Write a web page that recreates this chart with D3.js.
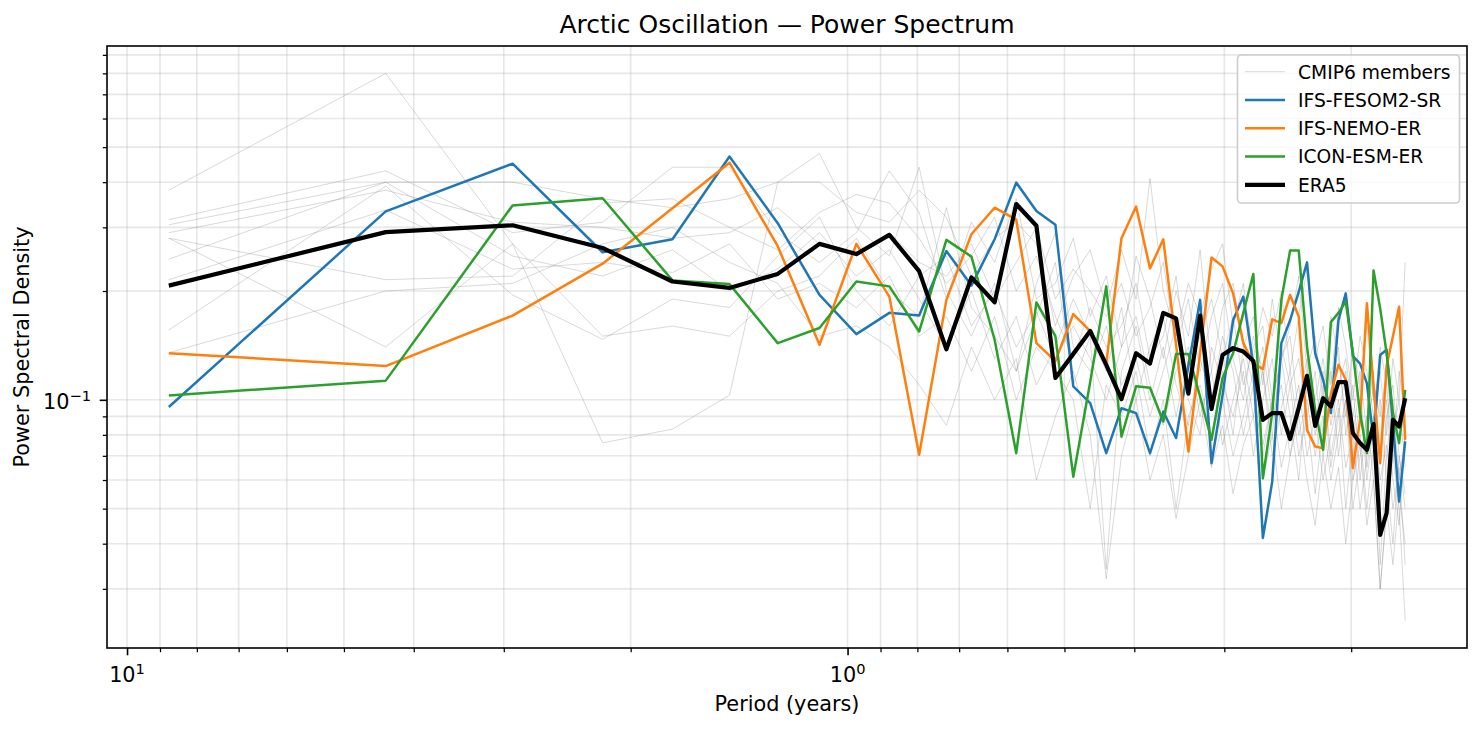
<!DOCTYPE html>
<html>
<head>
<meta charset="utf-8">
<script src="https://cdn.jsdelivr.net/npm/d3@7"></script>
<style>
  body { margin: 0; background: #fff; }
  text { font-family: "DejaVu Sans", sans-serif; fill: #000; }
</style>
</head>
<body>
<div id="chart"></div>
<script>
// periods (years) of the spectral estimates
const periods = [
    8.75, 4.375, 2.9167, 2.1875, 1.75, 1.4583, 1.25, 1.0938, 0.9722, 0.875,
    0.7955, 0.7292, 0.6731, 0.625, 0.5833, 0.5469, 0.5147, 0.4861, 0.4605, 0.4375,
    0.4167, 0.3977, 0.3804, 0.3646, 0.35, 0.3365, 0.3241, 0.3125, 0.3017, 0.2917,
    0.2823, 0.2734, 0.2652, 0.2574, 0.25, 0.2431, 0.2365, 0.2303, 0.2244, 0.2188,
    0.2134, 0.2083, 0.2035, 0.1989, 0.1944, 0.1902, 0.1862, 0.1823, 0.1786, 0.175,
    0.1716, 0.1683
];

const era5 = [
    0.207, 0.291, 0.304, 0.263, 0.2125, 0.204, 0.223, 0.270, 0.253, 0.286,
    0.227, 0.138, 0.218, 0.186, 0.348, 0.303, 0.115, 0.134, 0.155, 0.125,
    0.1004, 0.1346, 0.126, 0.174, 0.168, 0.104, 0.171, 0.0943, 0.133, 0.139,
    0.136, 0.128, 0.088, 0.0919, 0.0919, 0.0779, 0.095, 0.1165, 0.0847, 0.101,
    0.0958, 0.112, 0.112, 0.0809, 0.0759, 0.0727, 0.0857, 0.0423, 0.0486, 0.088,
    0.0844, 0.101
];

const ifsFesom = [
    0.0955, 0.332, 0.450, 0.256, 0.278, 0.471, 0.308, 0.195, 0.152, 0.174,
    0.171, 0.258, 0.207, 0.278, 0.399, 0.333, 0.305, 0.109, 0.0979, 0.0712,
    0.0948, 0.0919, 0.0712, 0.0928, 0.0784, 0.124, 0.189, 0.0668, 0.103, 0.166,
    0.193, 0.124, 0.0415, 0.0594, 0.1435, 0.166, 0.199, 0.240, 0.1346, 0.1136,
    0.0919, 0.166, 0.197, 0.132, 0.126, 0.111, 0.0775, 0.133, 0.1375, 0.0864,
    0.0523, 0.0767
];

const ifsNemo = [
    0.1346, 0.124, 0.171, 0.238, 0.339, 0.453, 0.266, 0.142, 0.270, 0.193,
    0.0705, 0.189, 0.287, 0.340, 0.315, 0.1435, 0.128, 0.1726, 0.155, 0.126,
    0.280, 0.3425, 0.231, 0.278, 0.142, 0.0719, 0.135, 0.2475, 0.234, 0.197,
    0.1435, 0.126, 0.1216, 0.167, 0.163, 0.195, 0.170, 0.0826, 0.0743, 0.0735,
    0.104, 0.125, 0.1136, 0.0647, 0.088, 0.185, 0.1088, 0.0668, 0.124, 0.150,
    0.181, 0.0775
];

const iconEsm = [
    0.1028, 0.113, 0.345, 0.361, 0.214, 0.209, 0.1435, 0.158, 0.2125, 0.206,
    0.1545, 0.277, 0.249, 0.1466, 0.0712, 0.186, 0.150, 0.0613, 0.112, 0.206,
    0.0791, 0.109, 0.108, 0.0871, 0.134, 0.134, 0.102, 0.0775, 0.115, 0.1346,
    0.174, 0.223, 0.0607, 0.0919, 0.189, 0.259, 0.259, 0.140, 0.0938, 0.0727,
    0.164, 0.174, 0.187, 0.1346, 0.0919, 0.0712, 0.228, 0.179, 0.1346, 0.0919,
    0.0759, 0.1066
];

// CMIP6 members (faint grey)
const cmip6Members = [
    [0.38, 0.80, 0.27, 0.076, 0.083, 0.103, 0.40, 0.48, 0.30, 0.25,
     0.44, 0.20, 0.15, 0.21, 0.12, 0.17, 0.24, 0.11, 0.15, 0.034,
     0.12, 0.16, 0.10, 0.14, 0.09, 0.13, 0.17, 0.10, 0.12, 0.08,
     0.14, 0.11, 0.07, 0.10, 0.13, 0.09, 0.06, 0.11, 0.085, 0.12,
     0.07, 0.095, 0.05, 0.08, 0.11, 0.065, 0.09, 0.035, 0.07, 0.10,
     0.06, 0.08],
    [0.315, 0.43, 0.29, 0.31, 0.44, 0.44, 0.29, 0.24, 0.29, 0.43,
     0.33, 0.19, 0.31, 0.24, 0.36, 0.19, 0.21, 0.28, 0.17, 0.22,
     0.14, 0.25, 0.19, 0.13, 0.20, 0.15, 0.26, 0.12, 0.18, 0.21,
     0.14, 0.17, 0.11, 0.19, 0.13, 0.16, 0.22, 0.12, 0.15, 0.10,
     0.17, 0.13, 0.09, 0.14, 0.11, 0.16, 0.10, 0.12, 0.08, 0.13,
     0.10, 0.24],
    [0.305, 0.40, 0.40, 0.36, 0.34, 0.36, 0.40, 0.40, 0.33, 0.31,
     0.38, 0.32, 0.22, 0.28, 0.31, 0.27, 0.16, 0.22, 0.26, 0.18,
     0.26, 0.19, 0.41, 0.20, 0.15, 0.21, 0.17, 0.23, 0.27, 0.16,
     0.21, 0.13, 0.18, 0.15, 0.20, 0.12, 0.17, 0.23, 0.13, 0.16,
     0.11, 0.18, 0.14, 0.10, 0.15, 0.12, 0.09, 0.14, 0.11, 0.07,
     0.12, 0.09],
    [0.29, 0.38, 0.31, 0.30, 0.28, 0.29, 0.34, 0.27, 0.25, 0.29,
     0.24, 0.22, 0.27, 0.19, 0.24, 0.30, 0.19, 0.23, 0.20, 0.17,
     0.21, 0.15, 0.18, 0.24, 0.14, 0.19, 0.12, 0.17, 0.21, 0.13,
     0.10, 0.15, 0.12, 0.08, 0.14, 0.11, 0.13, 0.09, 0.12, 0.07,
     0.10, 0.14, 0.08, 0.11, 0.06, 0.09, 0.12, 0.05, 0.09, 0.11,
     0.07, 0.05],
    [0.28, 0.14, 0.27, 0.15, 0.16, 0.15, 0.20, 0.22, 0.28, 0.20,
     0.17, 0.34, 0.18, 0.15, 0.12, 0.21, 0.29, 0.14, 0.12, 0.16,
     0.11, 0.13, 0.09, 0.12, 0.16, 0.10, 0.08, 0.14, 0.11, 0.09,
     0.12, 0.07, 0.10, 0.13, 0.08, 0.11, 0.07, 0.09, 0.055, 0.085,
     0.12, 0.07, 0.10, 0.06, 0.08, 0.05, 0.075, 0.10, 0.06, 0.04,
     0.07, 0.055],
    [0.245, 0.40, 0.25, 0.22, 0.26, 0.20, 0.23, 0.29, 0.22, 0.26,
     0.19, 0.14, 0.20, 0.13, 0.17, 0.11, 0.14, 0.19, 0.15, 0.12,
     0.18, 0.10, 0.14, 0.17, 0.11, 0.085, 0.13, 0.10, 0.15, 0.12,
     0.08, 0.11, 0.14, 0.09, 0.11, 0.07, 0.10, 0.13, 0.08, 0.11,
     0.065, 0.09, 0.12, 0.07, 0.10, 0.06, 0.085, 0.07, 0.10, 0.06,
     0.045, 0.08],
    [0.215, 0.335, 0.23, 0.24, 0.225, 0.27, 0.19, 0.21, 0.18, 0.22,
     0.15, 0.17, 0.12, 0.17, 0.10, 0.14, 0.12, 0.10, 0.05, 0.11,
     0.09, 0.12, 0.07, 0.10, 0.05, 0.09, 0.11, 0.08, 0.10, 0.07,
     0.09, 0.12, 0.075, 0.10, 0.065, 0.085, 0.11, 0.07, 0.09, 0.06,
     0.08, 0.10, 0.065, 0.08, 0.05, 0.07, 0.09, 0.06, 0.075, 0.05,
     0.065, 0.035],
    [0.156, 0.39, 0.195, 0.147, 0.19, 0.18, 0.25, 0.32, 0.20, 0.16,
     0.22, 0.25, 0.16, 0.20, 0.14, 0.175, 0.13, 0.16, 0.13, 0.10,
     0.14, 0.17, 0.11, 0.085, 0.12, 0.14, 0.09, 0.12, 0.075, 0.10,
     0.13, 0.09, 0.12, 0.07, 0.095, 0.12, 0.08, 0.10, 0.07, 0.09,
     0.06, 0.08, 0.10, 0.05, 0.07, 0.09, 0.06, 0.03, 0.05, 0.07,
     0.05, 0.0245],
    [0.135, 0.20, 0.21, 0.27, 0.30, 0.24, 0.21, 0.15, 0.16, 0.14,
     0.11, 0.085, 0.14, 0.10, 0.13, 0.06, 0.09, 0.12, 0.08, 0.032,
     0.07, 0.10, 0.06, 0.08, 0.047, 0.07, 0.10, 0.065, 0.085, 0.055,
     0.075, 0.09, 0.06, 0.08, 0.05, 0.07, 0.09, 0.06, 0.045, 0.07,
     0.05, 0.065, 0.04, 0.06, 0.075, 0.045, 0.06, 0.03, 0.05, 0.035,
     0.055, 0.04],
    [0.28, 0.215, 0.22, 0.35, 0.36, 0.30, 0.26, 0.33, 0.37, 0.35,
     0.28, 0.21, 0.25, 0.32, 0.20, 0.25, 0.17, 0.13, 0.18, 0.14,
     0.16, 0.21, 0.13, 0.15, 0.22, 0.12, 0.15, 0.19, 0.13, 0.17,
     0.11, 0.14, 0.16, 0.10, 0.13, 0.15, 0.09, 0.12, 0.10, 0.13,
     0.085, 0.11, 0.13, 0.09, 0.12, 0.08, 0.11, 0.09, 0.12, 0.08,
     0.10, 0.065]
];

const modelNames = ["IFS-FESOM2-SR", "IFS-NEMO-ER", "ICON-ESM-ER", "ERA5"];
const modelValues = [ifsFesom, ifsNemo, iconEsm, era5];
const modelColors = ["#1f77b4", "#ff7f0e", "#2ca02c", "#000000"];
const modelWidths = [2.5, 2.5, 2.5, 4.2];

const W = 1483, H = 730;
const plot = { left: 107, right: 1467, top: 46, bottom: 648 };

const svg = d3.select("#chart").append("svg")
    .attr("width", W)
    .attr("height", H);

// matplotlib-like 5% margin on a log axis
function logPad(ext) {
    const lo = Math.log10(ext[0]), hi = Math.log10(ext[1]);
    const p = (hi - lo) * 0.05;
    return [Math.pow(10, lo - p), Math.pow(10, hi + p)];
}

const xd = logPad(d3.extent(periods));
const x = d3.scaleLog().domain([xd[1], xd[0]]).range([plot.left, plot.right]);

const allValues = modelValues.concat(cmip6Members).flat();
const yd = logPad(d3.extent(allValues));
const y = d3.scaleLog().domain(yd).range([plot.bottom, plot.top]);

const isMajor = v => Math.abs(Math.log10(v) - Math.round(Math.log10(v))) < 1e-6;
const xTicks = x.ticks();
const yTicks = y.ticks();

// grid (major + minor)
const grid = svg.append("g");
grid.selectAll(".gx").data(xTicks).enter().append("line")
    .attr("x1", d => x(d)).attr("x2", d => x(d))
    .attr("y1", plot.top).attr("y2", plot.bottom)
    .attr("stroke", "#b0b0b0").attr("stroke-opacity", 0.3).attr("stroke-width", 1.6);
grid.selectAll(".gy").data(yTicks).enter().append("line")
    .attr("x1", plot.left).attr("x2", plot.right)
    .attr("y1", d => y(d)).attr("y2", d => y(d))
    .attr("stroke", "#b0b0b0").attr("stroke-opacity", 0.3).attr("stroke-width", 1.6);

svg.append("clipPath").attr("id", "clip")
    .append("rect")
    .attr("x", plot.left).attr("y", plot.top)
    .attr("width", plot.right - plot.left).attr("height", plot.bottom - plot.top);

const line = d3.line()
    .x((d, i) => x(periods[i]))
    .y(d => y(d));

const lines = svg.append("g").attr("clip-path", "url(#clip)");

lines.selectAll(".member")
    .data(cmip6Members)
    .enter().append("path")
    .attr("d", line)
    .attr("fill", "none")
    .attr("stroke", "#808080")
    .attr("stroke-opacity", 0.3)
    .attr("stroke-width", 1);

modelValues.forEach((vals, i) => {
    lines.append("path")
        .datum(vals)
        .attr("d", line)
        .attr("fill", "none")
        .attr("stroke", modelColors[i])
        .attr("stroke-width", modelWidths[i])
        .attr("stroke-linejoin", "round");
});

// axes
const xMajor = xTicks.filter(isMajor), xMinor = xTicks.filter(d => !isMajor(d));
const yMajor = yTicks.filter(isMajor), yMinor = yTicks.filter(d => !isMajor(d));

function styleAxis(g, w) {
    g.select(".domain").remove();
    g.selectAll(".tick line").attr("stroke", "#000").attr("stroke-width", w);
    g.selectAll(".tick text").remove();
}

svg.append("g")
    .attr("transform", `translate(0,${plot.bottom})`)
    .call(d3.axisBottom(x).tickValues(xMajor).tickSize(7.3).tickFormat(""))
    .call(g => styleAxis(g, 1.6));
svg.append("g")
    .attr("transform", `translate(0,${plot.bottom})`)
    .call(d3.axisBottom(x).tickValues(xMinor).tickSize(4.2).tickFormat(""))
    .call(g => styleAxis(g, 1.25));
svg.append("g")
    .attr("transform", `translate(${plot.left},0)`)
    .call(d3.axisLeft(y).tickValues(yMajor).tickSize(7.3).tickFormat(""))
    .call(g => styleAxis(g, 1.6));
svg.append("g")
    .attr("transform", `translate(${plot.left},0)`)
    .call(d3.axisLeft(y).tickValues(yMinor).tickSize(4.2).tickFormat(""))
    .call(g => styleAxis(g, 1.25));

function powLabel(sel, v) {
    const e = Math.round(Math.log10(v));
    sel.append("tspan").text("10");
    sel.append("tspan")
        .attr("dy", -8.5)
        .style("font-size", "14.6px")
        .text(e < 0 ? "\u2212" + (-e) : String(e));
}

xMajor.forEach(v => {
    svg.append("text")
        .attr("x", x(v)).attr("y", 682)
        .attr("text-anchor", "middle")
        .style("font-size", "20.8px")
        .call(s => powLabel(s, v));
});
yMajor.forEach(v => {
    svg.append("text")
        .attr("x", 91).attr("y", y(v) + 9.5)
        .attr("text-anchor", "end")
        .style("font-size", "20.8px")
        .call(s => powLabel(s, v));
});

// frame
svg.append("rect")
    .attr("x", plot.left).attr("y", plot.top)
    .attr("width", plot.right - plot.left).attr("height", plot.bottom - plot.top)
    .attr("fill", "none").attr("stroke", "#000").attr("stroke-width", 1.6);

// labels
svg.append("text")
    .attr("x", (plot.left + plot.right) / 2).attr("y", 33)
    .attr("text-anchor", "middle")
    .style("font-size", "25px")
    .text("Arctic Oscillation \u2014 Power Spectrum");
svg.append("text")
    .attr("x", (plot.left + plot.right) / 2).attr("y", 711)
    .attr("text-anchor", "middle")
    .style("font-size", "20.8px")
    .text("Period (years)");
svg.append("text")
    .attr("transform", `translate(29,${(plot.top + plot.bottom) / 2}) rotate(-90)`)
    .attr("text-anchor", "middle")
    .style("font-size", "20.8px")
    .text("Power Spectral Density");

// legend
const legendItems = [
    { name: "CMIP6 members", color: "#808080", width: 1, opacity: 0.3 }
].concat(modelNames.map((n, i) => ({ name: n, color: modelColors[i], width: modelWidths[i], opacity: 1 })));

const legend = svg.append("g");
legend.append("rect")
    .attr("x", 1237.5).attr("y", 55)
    .attr("width", 222).attr("height", 148)
    .attr("rx", 4)
    .attr("fill", "#fff").attr("fill-opacity", 0.8)
    .attr("stroke", "#cccccc").attr("stroke-width", 1.6);

legendItems.forEach((d, i) => {
    const cy = 71.7 + i * 28.3;
    legend.append("line")
        .attr("x1", 1245).attr("x2", 1285)
        .attr("y1", cy).attr("y2", cy)
        .attr("stroke", d.color)
        .attr("stroke-opacity", d.opacity)
        .attr("stroke-width", d.width);
    legend.append("text")
        .attr("x", 1298).attr("y", cy + 6.8)
        .style("font-size", "18.7px")
        .text(d.name);
});
</script>
</body>
</html>
